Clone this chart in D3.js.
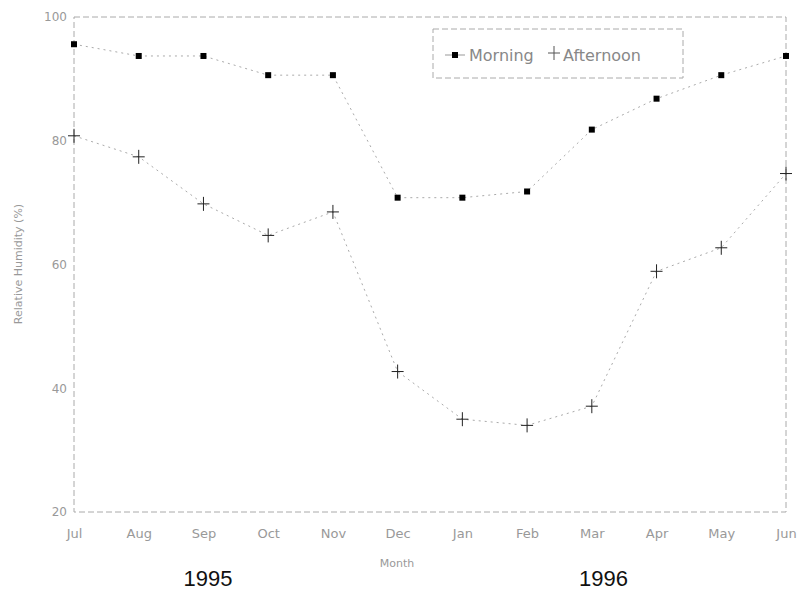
<!DOCTYPE html>
<html><head><meta charset="utf-8">
<script src="https://cdn.jsdelivr.net/npm/d3@7"></script>
<style>body{margin:0;background:#fff}svg{display:block}</style>
</head><body>
<svg id="c" width="802" height="592"></svg>
<script>
const months = ["Jul","Aug","Sep","Oct","Nov","Dec","Jan","Feb","Mar","Apr","May","Jun"];
const morning = [95.6,93.7,93.7,90.6,90.6,70.8,70.8,71.8,81.8,86.8,90.6,93.7];
const afternoon = [80.8,77.4,69.8,64.7,68.5,42.7,35.0,34.0,37.1,58.9,62.7,74.7];
const yTicks = [20,40,60,80,100];
const years = [{label:"1995", at:"Sep", off:0.07},{label:"1996", at:"Mar", off:0.18}];

const svg = d3.select("#c");
const L=74,R=786,T=17,B=512;
const x = d3.scalePoint().domain(months).range([L,R]);
const y = d3.scaleLinear().domain([20,100]).range([B,T]);

svg.append("rect").attr("x",L).attr("y",T).attr("width",R-L).attr("height",B-T)
  .attr("fill","none").attr("stroke","#aaa").attr("stroke-width",1).attr("stroke-dasharray","6,3");

const yAxis = d3.axisLeft(y).tickValues(yTicks).tickSize(0).tickPadding(7);
const gy = svg.append("g").attr("transform",`translate(${L},0)`).call(yAxis);
gy.select(".domain").remove();
gy.selectAll("text").attr("fill","#999").style("font-family","DejaVu Sans").style("font-size","12px");

const xAxis = d3.axisBottom(x).tickSize(0).tickPadding(17);
const gx = svg.append("g").attr("transform",`translate(0,${B})`).call(xAxis);
gx.select(".domain").remove();
gx.selectAll("text").attr("fill","#999").style("font-family","DejaVu Sans").style("font-size","13px");

svg.append("text").attr("x",397).attr("y",567).attr("text-anchor","middle")
  .attr("fill","#999").style("font-family","DejaVu Sans").style("font-size","11px").text("Month");
svg.append("text").attr("transform","translate(22,264) rotate(-90)").attr("text-anchor","middle")
  .attr("fill","#999").style("font-family","DejaVu Sans").style("font-size","11px").text("Relative Humidity (%)");

years.forEach(d=>{
  svg.append("text").attr("x",x(d.at)+d.off*(x.step())).attr("y",586).attr("text-anchor","middle")
    .attr("fill","#111").style("font-family","Liberation Sans").style("font-size","22px").text(d.label);
});

const line = d3.line().x((d,i)=>x(months[i])).y(d=>y(d));
[morning, afternoon].forEach(s=>{
  svg.append("path").datum(s).attr("d",line).attr("fill","none")
    .attr("stroke","#aaa").attr("stroke-width",1).attr("stroke-dasharray","2,4");
});

svg.selectAll(".mm").data(morning).enter().append("rect")
  .attr("x",(d,i)=>x(months[i])-3).attr("y",d=>y(d)-3).attr("width",6).attr("height",6).attr("fill","#000");
svg.selectAll(".ap").data(afternoon).enter().append("g")
  .attr("transform",(d,i)=>`translate(${x(months[i])},${y(d)})`)
  .each(function(){
    const g=d3.select(this);
    g.append("line").attr("x1",-6).attr("x2",6).attr("stroke","#222").attr("stroke-width",1);
    g.append("line").attr("y1",-7).attr("y2",7).attr("stroke","#222").attr("stroke-width",1);
  });

const lg = svg.append("g");
lg.append("rect").attr("x",433).attr("y",29).attr("width",250).attr("height",49)
  .attr("fill","#fff").attr("stroke","#aaa").attr("stroke-dasharray","6,3");
lg.append("line").attr("x1",445).attr("x2",465).attr("y1",55).attr("y2",55).attr("stroke","#999");
lg.append("rect").attr("x",452).attr("y",52).attr("width",6).attr("height",6).attr("fill","#000");
lg.append("text").attr("x",469).attr("y",61).attr("fill","#888").style("font-family","DejaVu Sans").style("font-size","16px").text("Morning");
lg.append("line").attr("x1",548).attr("x2",560).attr("y1",53).attr("y2",53).attr("stroke","#555");
lg.append("line").attr("x1",554).attr("x2",554).attr("y1",46).attr("y2",60).attr("stroke","#555");
lg.append("text").attr("x",563).attr("y",61).attr("fill","#888").style("font-family","DejaVu Sans").style("font-size","16px").text("Afternoon");
</script>
</body></html>
